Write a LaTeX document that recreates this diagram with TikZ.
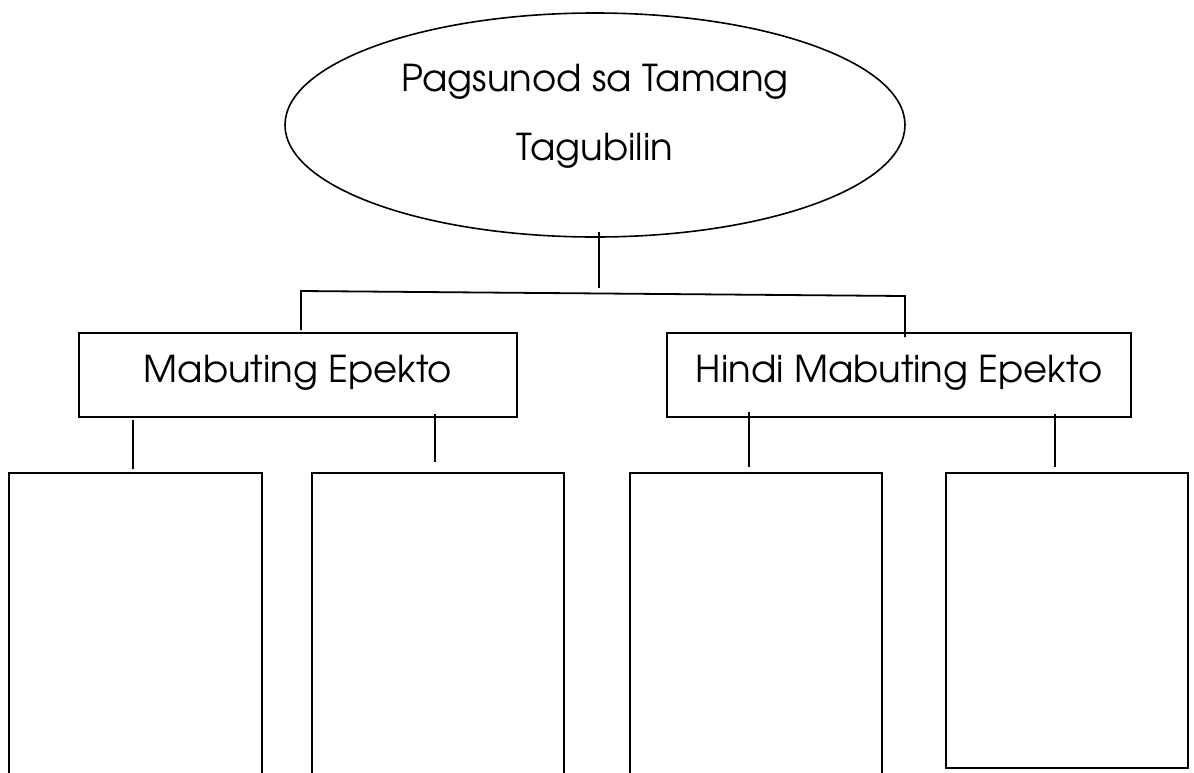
\documentclass[tikz,border=0pt]{standalone}
\usepackage{fontspec}
\setmainfont{texgyreadventor-regular.otf}
\usetikzlibrary{shapes.geometric}
\begin{document}
\begin{tikzpicture}[x=1pt,y=-1pt,
  box/.style={draw,rectangle,inner sep=0pt,line width=1.8pt},
  cell/.style={draw,rectangle,inner sep=0pt,anchor=north west,line width=1.8pt},
  lbl/.style={font=\fontsize{37}{37}\selectfont,inner sep=0pt,anchor=base},
  conn/.style={line width=1.8pt}]
\clip (0,0) rectangle (1194,772);
\fill[white] (0,0) rectangle (1194,772);
% top ellipse
\node[draw,ellipse,minimum width=620pt,minimum height=224pt,line width=1.6pt] (top) at (595,125) {};
\node[lbl] (t1) at (595,91) {Pagsunod sa Tamang};
\node[lbl] (t2) at (595,160) {Tagubilin};
% second level boxes
\node[box,minimum width=438pt,minimum height=84pt] (mab) at (298,375) {};
\node[lbl] (mabt) at (298,382) {Mabuting Epekto};
\node[box,minimum width=464pt,minimum height=84pt] (hindi) at (899,375) {};
\node[lbl] (hindit) at (899,382) {Hindi Mabuting Epekto};
% bottom cells
\node[cell,minimum width=253pt,minimum height=400pt] (b1) at (8,472) {};
\node[cell,minimum width=252pt,minimum height=400pt] (b2) at (311,472) {};
\node[cell,minimum width=252pt,minimum height=400pt] (b3) at (629,472) {};
\node[cell,minimum width=242pt,minimum height=295pt] (b4) at (945,472) {};
% connectors
\coordinate (s0) at (599,232);
\coordinate (j) at (599,288);
\coordinate (hl) at (301,291);
\coordinate (hr) at (905,296);
\coordinate (dl) at (301,330);
\coordinate (dr) at (905,337);
\draw[conn] (s0) -- (j);
\draw[conn] (dl) -- (hl) -- (hr) -- (dr);
\coordinate (m1a) at (133,420); \coordinate (m1b) at (133,469);
\coordinate (m2a) at (435,414); \coordinate (m2b) at (435,462);
\coordinate (h1a) at (749,412); \coordinate (h1b) at (749,467);
\coordinate (h2a) at (1055,414); \coordinate (h2b) at (1055,467);
\draw[conn] (m1a) -- (m1b);
\draw[conn] (m2a) -- (m2b);
\draw[conn] (h1a) -- (h1b);
\draw[conn] (h2a) -- (h2b);
\end{tikzpicture}
\end{document}
